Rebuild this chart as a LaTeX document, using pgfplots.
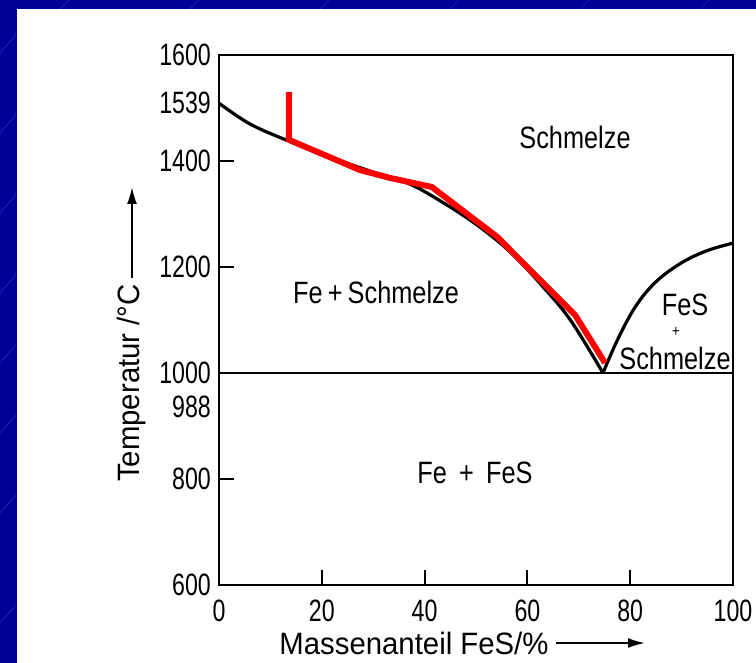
\documentclass[border=0pt]{standalone}
\usepackage{pgfplots}
\pgfplotsset{compat=1.18}
\usetikzlibrary{arrows.meta}
\usepackage{fontspec}
\setmainfont{Liberation Sans}
\newfontfamily\digitfont{Liberation Sans}[FakeStretch=0.75]
\newfontfamily\regfont{Liberation Sans}[FakeStretch=0.82]
\newfontfamily\axfont{Liberation Sans}[FakeStretch=0.95]
\definecolor{slideblue}{RGB}{0,0,150}
\definecolor{slidestreak}{RGB}{40,40,185}
\definecolor{pure red}{RGB}{255,0,0}
\begin{document}
\begin{tikzpicture}[x=1bp,y=1bp]
\useasboundingbox (0,0) rectangle (756,663);
% slide background
\fill[slideblue] (0,0) rectangle (756,663);
\foreach \yy in {40,150,230,300,370,450,530,610} {
  \draw[slidestreak, line width=0.7bp] (0,\yy) -- (16,\yy+18);
}
\foreach \xx in {60,190,320,450,580,700} {
  \draw[slidestreak, line width=0.7bp] (\xx,654) -- (\xx+9,663);
}
\fill[white] (17,0) rectangle (756,654);

\begin{axis}[
  at={(219bp,78bp)}, anchor=south west,
  scale only axis, width=514bp, height=530bp,
  xmin=0, xmax=100, ymin=600, ymax=1600,
  axis line style={line width=2.4bp, black},
  tick align=inside,
  xtick pos=left, ytick pos=left,
  major tick length=15bp,
  major tick style={line width=2bp, black},
  xtick={0,20,40,60,80,100},
  xticklabels={0,20,40,60,80,100},
  ytick={600,800,1000,1200,1400,1600},
  yticklabels={600,800,1000,1200,1400,1600},
  extra y ticks={1509,936},
  extra y tick labels={1539,988},
  extra y tick style={tickwidth=0pt},
  tick label style={font=\digitfont\fontsize{31}{36}\selectfont, inner sep=0pt},
  yticklabel style={anchor=east, xshift=-8bp},
  xticklabel style={anchor=north, yshift=-15bp},
]
% eutectic line
\addplot[black, line width=2.6bp] coordinates {(0,1000) (100,1000)};
% liquidus Fe side
\addplot[black, line width=3.2bp, smooth, tension=0.6] coordinates {
  (0,1509) (6,1470) (13.2,1439) (22,1406) (30,1379)
  (37.2,1356) (44,1319) (50.8,1275) (57,1225)
  (63,1163) (68.5,1098) (74.7,1000)};
% liquidus FeS side
\addplot[black, line width=3.2bp, smooth, tension=0.6] coordinates {
  (74.7,1000) (77.5,1062) (81,1125) (85,1172) (90,1208)
  (95,1231) (100,1245)};
% red cooling path
\addplot[pure red, line width=6bp] coordinates {
  (13.6,1530) (13.6,1440) (27.4,1383) (33.3,1368) (41.4,1351)
  (54.1,1257) (69.3,1109) (75.1,1019)};
\end{axis}

% region labels
\begin{scope}[font=\regfont\fontsize{31}{36}\selectfont]
\node at (575,526) {Schmelze};
\node at (376,371) {Fe\,+\,Schmelze};
\node at (475,190) {Fe \,+\, FeS};
\node at (685,358) {FeS};
\node[inner sep=0pt] at (676,331) {\fontsize{16}{18}\selectfont +};
\node at (675,305) {Schmelze};
\end{scope}

% axis titles
\node[font=\axfont\fontsize{31}{36}\selectfont, rotate=90] at (132,280) {Temperatur /°C};
\draw[line width=2bp, -{Latex[length=17bp,width=10bp]}] (132,385) -- (132,476);
\node[font=\axfont\fontsize{31}{36}\selectfont] at (414,20) {Massenanteil FeS/\%};
\draw[line width=2bp, -{Latex[length=17bp,width=10bp]}] (556,20) -- (645,20);
\end{tikzpicture}
\end{document}
